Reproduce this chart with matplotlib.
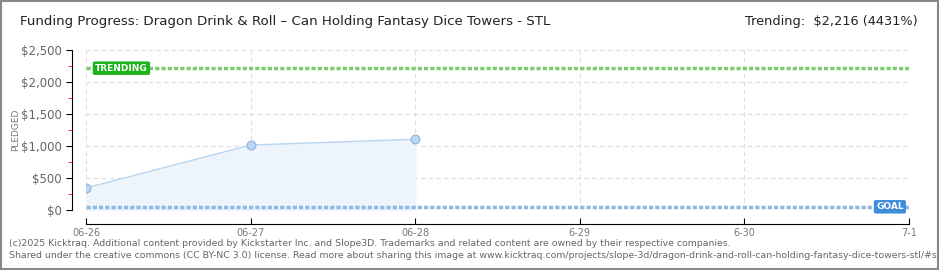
import numpy as np
import matplotlib.pyplot as plt
from matplotlib.ticker import FuncFormatter, MultipleLocator

days = [0, 1, 2]
pledged = [345, 1015, 1105]
day_labels = ["06-26", "06-27", "06-28", "6-29", "6-30", "7-1"]
goal = 50
trending = 2216
title = "Funding Progress: Dragon Drink & Roll \u2013 Can Holding Fantasy Dice Towers - STL"

fig = plt.figure(figsize=(9.4, 2.7), dpi=100)
fig.patch.set_facecolor("white")
ax = fig.add_axes([86 / 940, 1 - 210 / 270, 823 / 940, 160 / 270])

# area + line
ax.fill_between(days, pledged, 0, color="#edf4fc", zorder=1)
ax.plot(days, pledged, color="#b8d6f2", lw=1, zorder=2)
ax.scatter(days, pledged, s=40, color="#bcd7f3", edgecolor="#8eb3d8", lw=0.8, zorder=3)

# goal + trending lines
ax.axhline(goal, color="#8fb8e0", lw=2.5, ls=(0, (1.2, 0.6)), zorder=2)
ax.axhline(trending, color="#7dcc6f", lw=2.5, ls=(0, (1.2, 0.6)), zorder=2)

ax.text(0.055, trending, "TRENDING", color="white", fontsize=6.5, va="center", ha="left",
        fontweight="bold", zorder=5,
        bbox=dict(boxstyle="round,pad=0.25,rounding_size=0.2", fc="#1db31d", ec="none"))
ax.text(4.8, goal, "GOAL", color="white", fontsize=6.5, va="center", ha="left",
        fontweight="bold", zorder=5,
        bbox=dict(boxstyle="round,pad=0.25,rounding_size=0.2", fc="#3d8ddb", ec="none"))

ax.set_xlim(0, 5)
ax.set_ylim(0, 2500)
ax.set_xticks(range(len(day_labels)))
ax.set_xticklabels(day_labels)
ax.yaxis.set_major_locator(MultipleLocator(500))
ax.yaxis.set_minor_locator(MultipleLocator(250))
ax.yaxis.set_major_formatter(FuncFormatter(lambda v, p: "${:,.0f}".format(v)))

ax.grid(True, which="major", color="#dddddd", ls=(0, (4, 3)), lw=0.8)
ax.set_axisbelow(True)

for s in ["top", "right"]:
    ax.spines[s].set_visible(False)
ax.spines["left"].set_position(("outward", 10))
ax.spines["bottom"].set_position(("outward", 10))
ax.spines["left"].set_color("black")
ax.spines["bottom"].set_color("black")

ax.tick_params(axis="y", which="major", length=4, color="black", labelsize=8.5, labelcolor="#666666")
ax.tick_params(axis="y", which="minor", length=3, color="red")
ax.tick_params(axis="x", length=4, direction="in", labelsize=7, labelcolor="#777777", pad=3)

ax.set_ylabel("PLEDGED", fontsize=6.5, color="#777777")
ax.yaxis.set_label_coords(-66 / 823, 0.5)

fig.text(20 / 940, 1 - 22 / 270, title, fontsize=9.6, color="#222222", va="center", ha="left")
fig.text(918 / 940, 1 - 22 / 270, "Trending:  $2,216 (4431%)", fontsize=9.3, color="#222222",
         va="center", ha="right")

fig.text(9 / 940, 1 - 243 / 270,
         "(c)2025 Kicktraq. Additional content provided by Kickstarter Inc. and Slope3D. Trademarks and related content are owned by their respective companies.",
         fontsize=6.75, color="#666666", va="center", ha="left")
fig.text(9 / 940, 1 - 256 / 270,
         "Shared under the creative commons (CC BY-NC 3.0) license. Read more about sharing this image at www.kicktraq.com/projects/slope-3d/dragon-drink-and-roll-can-holding-fantasy-dice-towers-stl/#s",
         fontsize=6.75, color="#666666", va="center", ha="left")

# outer frame
fig.add_artist(plt.Rectangle((0.001, 0.002), 0.997, 0.995, transform=fig.transFigure,
                             fill=False, ec="#888888", lw=1.5))

fig.savefig("out.png", dpi=100, facecolor="white")
